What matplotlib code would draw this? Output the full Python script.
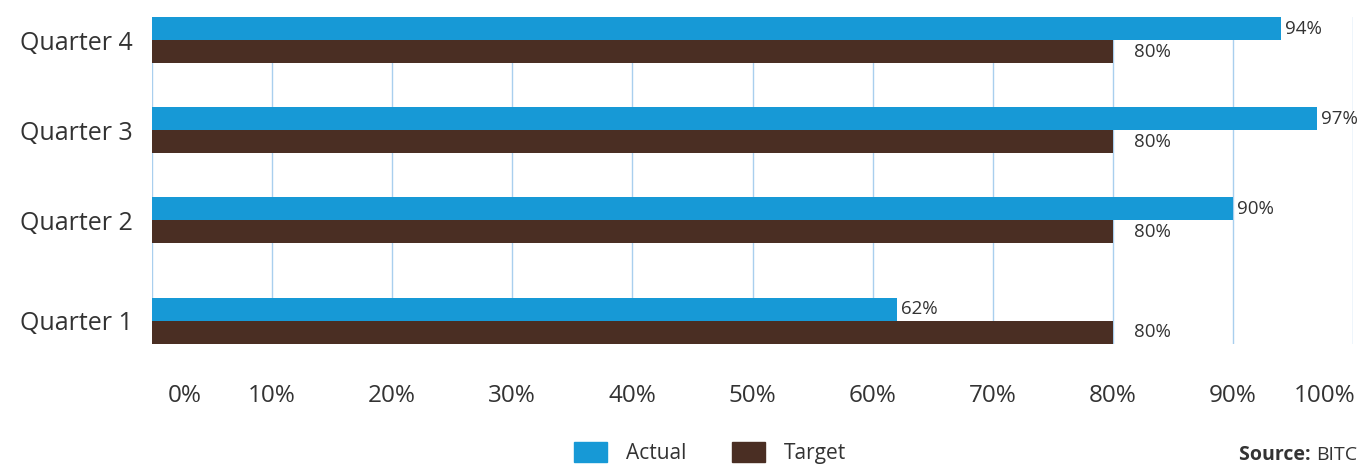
import matplotlib
matplotlib.use("Agg")
import matplotlib.pyplot as plt
from matplotlib.patches import Patch
from matplotlib.transforms import ScaledTranslation

plt.rcParams['font.family'] = ['Open Sans', 'DejaVu Sans']

categories = ["Quarter 1", "Quarter 2", "Quarter 3", "Quarter 4"]
actual = [62, 90, 97, 94]
target = [80, 80, 80, 80]
xticks = [0, 10, 20, 30, 40, 50, 60, 70, 80, 90, 100]
xtick_labels = [f"{v}%" for v in xticks]

# layout (category centre positions, not data)
ypos = [0.0, 1.122, 2.122, 3.122]
h = 0.2556

c_actual = "#1799d6"
c_target = "#4a2e23"
c_text = "#333333"
c_grid = "#a9cfee"

fig = plt.figure(figsize=(13.59, 4.67), dpi=100)
ax = fig.add_axes([152/1359, 1-344/467, (1353-152)/1359, (344-17)/467])

ya = [y + h/2 for y in ypos]
yt = [y - h/2 for y in ypos]
ax.barh(ya, actual, height=h, color=c_actual, zorder=3)
ax.barh(yt, target, height=h, color=c_target, zorder=3)

for y, v in zip(ya, actual):
    ax.annotate(f"{v}%", (v, y), xytext=(3, 0), textcoords="offset points",
                va="center", ha="left", fontsize=13.5, color=c_text)
for y, v in zip(yt, target):
    ax.annotate(f"{v}%", (v, y), xytext=(15, 0), textcoords="offset points",
                va="center", ha="left", fontsize=13.5, color=c_text)

ax.set_xlim(0, 100)
ax.set_ylim(ypos[0] - h, ypos[-1] + h)
ax.set_xticks(xticks)
ax.set_xticklabels(xtick_labels)
ax.set_yticks(ypos)
ax.set_yticklabels(categories)
ax.tick_params(axis='x', length=0, pad=29, labelsize=17.5, labelcolor=c_text)
ax.tick_params(axis='y', length=0, pad=14, labelsize=18, labelcolor=c_text)
ax.grid(axis='x', color=c_grid, linewidth=1, zorder=0)
ax.grid(axis='y', visible=False)
for s in ax.spines.values():
    s.set_visible(False)

labels = ax.get_xticklabels()
labels[0].set_transform(labels[0].get_transform() + ScaledTranslation(33/100, 0, fig.dpi_scale_trans))
labels[-1].set_transform(labels[-1].get_transform() + ScaledTranslation(-28/100, 0, fig.dpi_scale_trans))

handles = [Patch(color=c_actual, label="Actual"), Patch(color=c_target, label="Target")]
fig.legend(handles=handles, loc="center", bbox_to_anchor=(710/1359, 1-453/467), ncol=2,
           frameon=False, fontsize=15, handlelength=1.6, handleheight=1.1,
           columnspacing=2.2, handletextpad=0.9, labelcolor=c_text)

src = fig.text(1357/1359, 1-455/467, "BITC", ha="right", va="center", fontsize=14, color=c_text)
fig.canvas.draw()
bb = src.get_window_extent()
fig.text(bb.x0/fig.bbox.width, 1-455/467, "Source: ", ha="right", va="center", fontsize=14,
         color=c_text, fontweight="bold")

fig.savefig("out.png", dpi=100)
